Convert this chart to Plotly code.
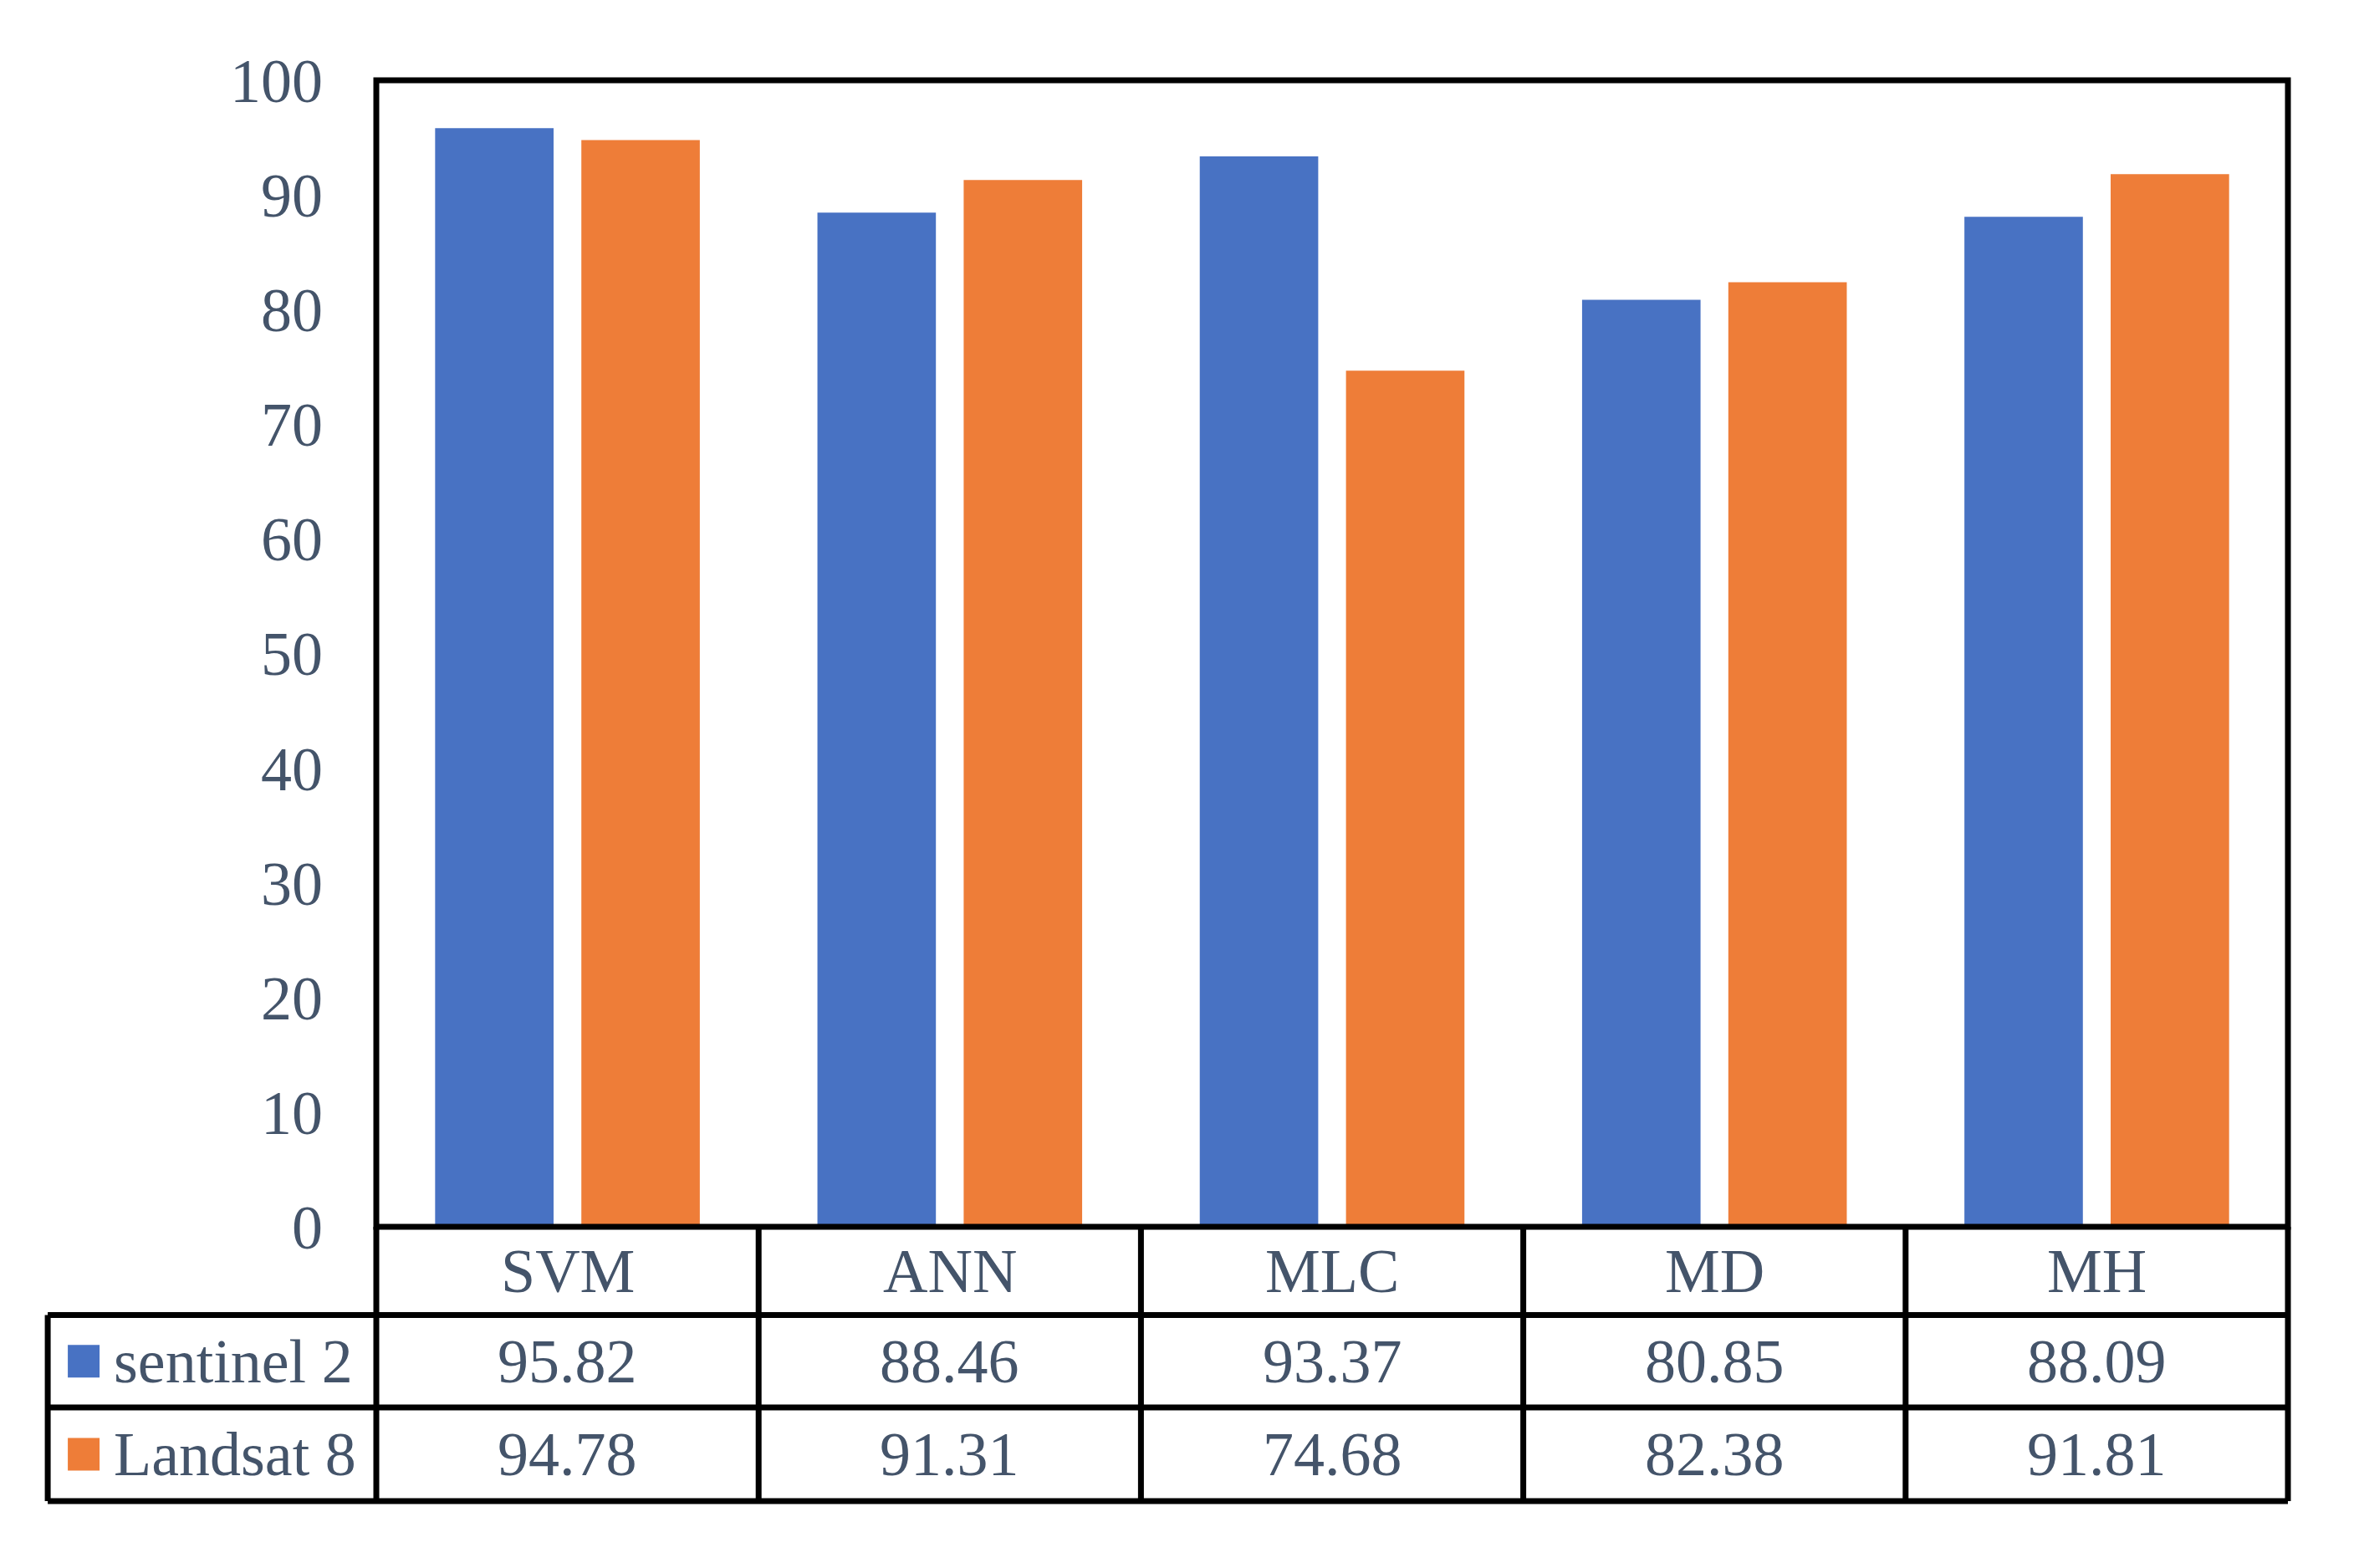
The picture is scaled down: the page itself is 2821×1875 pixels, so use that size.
import plotly.graph_objects as go

categories = ["SVM", "ANN", "MLC", "MD", "MH"]
series_names = ["sentinel 2", "Landsat 8"]
sentinel2 = [95.82, 88.46, 93.37, 80.85, 88.09]
landsat8 = [94.78, 91.31, 74.68, 82.38, 91.81]
y_tick_values = [0, 10, 20, 30, 40, 50, 60, 70, 80, 90, 100]

series_values = [sentinel2, landsat8]
series_colors = ["#4872C3", "#EE7D38"]
legend_colors = ["#4872C3", "#EE7D38"]

# page body margin offset (the html page places the figure 8px in)
OFF = 8
W, H = 2821 - 2 * OFF, 1875 - 2 * OFF
# target plot area in screenshot pixels: x 449.5..2736.5, y 96..1467.5
L = 450 - OFF
T = 96 - OFF
R = 2821 - OFF - 2736.5
B = 1875 - OFF - 1467.5
PW = W - L - R
PH = H - T - B
TEXT = "#44546A"
FONT = "Liberation Serif"
FS = 74
LW = 7


def px_x(x):
    return (x - OFF - L) / PW


def px_y(y):
    return (H - B - (y - OFF)) / PH


fig = go.Figure()
for name, vals, col in zip(series_names, series_values, series_colors):
    fig.add_trace(go.Bar(x=categories, y=vals, name=name,
                         marker=dict(color=col, line=dict(width=0)),
                         showlegend=False))

# table geometry (screenshot pixels -> paper)
row_bottoms = [px_y(1573), px_y(1683.5), px_y(1795.5)]
table_left = px_x(57)
n = len(categories)

shapes = []
line = dict(color="black", width=LW)
shapes.append(dict(type="rect", xref="paper", yref="paper", x0=0, x1=1, y0=0, y1=1,
                   line=line, layer="above"))
for i in range(n + 1):
    shapes.append(dict(type="line", xref="paper", yref="paper", x0=i / n, x1=i / n,
                       y0=0, y1=row_bottoms[2], line=line, layer="above"))
for rb in row_bottoms:
    shapes.append(dict(type="line", xref="paper", yref="paper", x0=table_left, x1=1,
                       y0=rb, y1=rb, line=line))
shapes.append(dict(type="line", xref="paper", yref="paper", x0=table_left, x1=table_left,
                   y0=row_bottoms[0], y1=row_bottoms[2], line=line))

annotations = []
header_y = (0 + row_bottoms[0]) / 2
row_ys = [(row_bottoms[0] + row_bottoms[1]) / 2, (row_bottoms[1] + row_bottoms[2]) / 2]
font = dict(family=FONT, size=FS, color=TEXT)
for c in categories:
    annotations.append(dict(x=c, xref="x", y=header_y, yref="paper", text=c,
                            showarrow=False, font=font, xanchor="center", yanchor="middle"))
for ry, name, vals, col in zip(row_ys, series_names, series_values, legend_colors):
    for c, v in zip(categories, vals):
        annotations.append(dict(x=c, xref="x", y=ry, yref="paper", text=f"{v:.2f}",
                                showarrow=False, font=font, xanchor="center", yanchor="middle"))
    annotations.append(dict(x=px_x(134), xref="paper", y=ry, yref="paper", text=name,
                            showarrow=False, font=font, xanchor="left", yanchor="middle"))
    half = 19.5 / PH
    shapes.append(dict(type="rect", xref="paper", yref="paper",
                       x0=px_x(81), x1=px_x(119), y0=ry - half, y1=ry + half,
                       fillcolor=col, line=dict(width=0)))

fig.update_layout(
    width=W, height=H, autosize=False,
    margin=dict(l=L, r=R, t=T, b=B, pad=0),
    paper_bgcolor="white", plot_bgcolor="white",
    barmode="group", bargap=0.235, bargroupgap=0.19,
    shapes=shapes, annotations=annotations,
    font=font,
    xaxis=dict(showticklabels=False, showgrid=False, zeroline=False, showline=False,
               ticks="", fixedrange=True),
    yaxis=dict(range=[0, 100], tickvals=y_tick_values, showgrid=False, zeroline=False,
               showline=False, ticks="", ticklabelstandoff=63,
               tickfont=font, fixedrange=True),
)

fig.write_html("out.html")
